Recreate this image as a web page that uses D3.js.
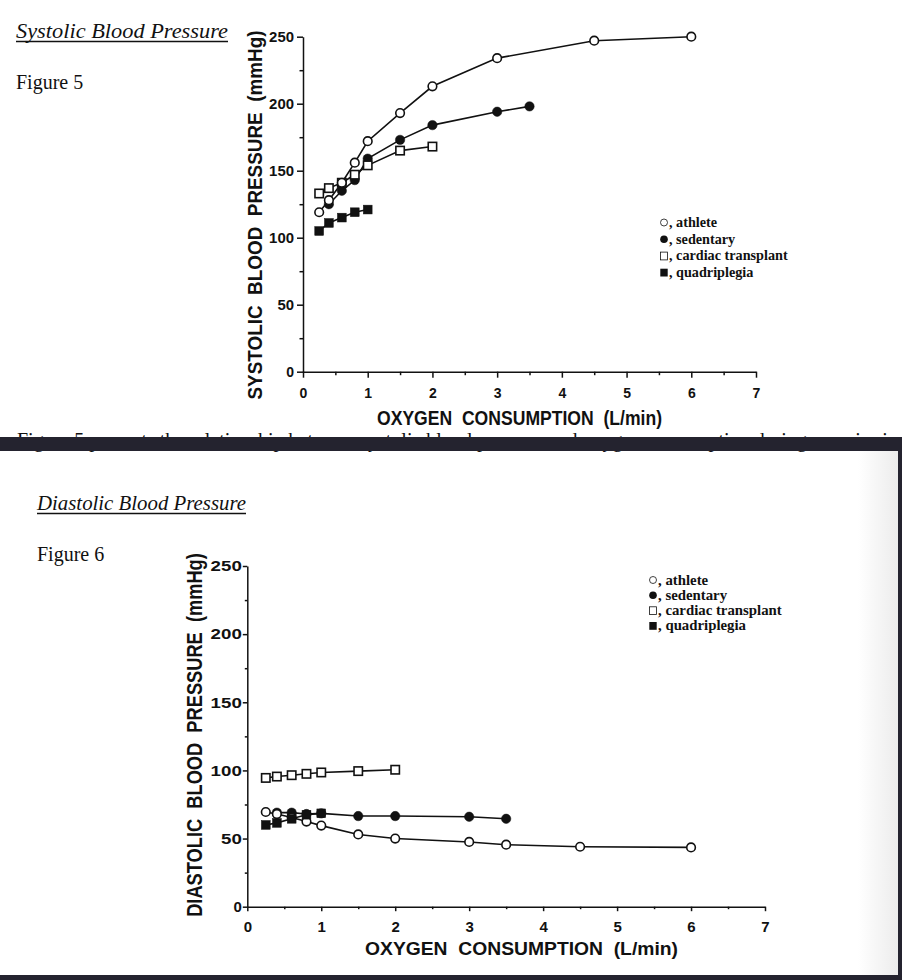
<!DOCTYPE html>
<html>
<head>
<meta charset="utf-8">
<script src="https://cdn.jsdelivr.net/npm/d3@7"></script>
<style>
  body { margin: 0; background: #fff; }
  svg { display: block; }
</style>
</head>
<body>
<svg id="fig" width="902" height="980"></svg>
<script>
// ticks shared by both figures
var xTicks = [0, 1, 2, 3, 4, 5, 6, 7];
var xMinor = [0.5, 1.5, 2.5, 3.5, 4.5, 5.5, 6.5];
var yTicks = [0, 50, 100, 150, 200, 250];
var yMinor = [25, 75, 125, 175, 225];

var groupNames = ["athlete", "sedentary", "cardiac transplant", "quadriplegia"];

// Figure 5 - systolic pressure, [L/min, mmHg]
var sysAthlete = [[0.25,119],[0.4,128],[0.6,141],[0.8,156],[1,172],[1.5,193],[2,213],[3,234],[4.5,247],[6,250]];
var sysSedentary = [[0.4,125],[0.6,135],[0.8,143],[1,159],[1.5,173],[2,184],[3,194],[3.5,198]];
var sysTransplant = [[0.25,133],[0.4,137],[0.6,141],[0.8,147],[1,154],[1.5,165],[2,168]];
var sysQuad = [[0.25,105],[0.4,111],[0.6,115],[0.8,119],[1,121]];

// Figure 6 - diastolic pressure
var diaAthlete = [[0.25,69.5],[0.4,68],[0.6,65.5],[0.8,62.5],[1,59.5],[1.5,53],[2,50],[3,47.5],[3.5,45.5],[4.5,44],[6,43.5]];
var diaSedentary = [[0.4,69],[0.6,69],[0.8,68],[1,68.5],[1.5,66.5],[2,66.5],[3,66],[3.5,64.5]];
var diaTransplant = [[0.25,94.5],[0.4,95.5],[0.6,96.5],[0.8,97.5],[1,98.5],[1.5,99.5],[2,100.5]];
var diaQuad = [[0.25,60],[0.4,61.5],[0.6,64.5],[0.8,67.5],[1,68.5]];

var svg = d3.select("#fig");
var sans = "'Liberation Sans', Arial, Helvetica, sans-serif";
var serif = "'Liberation Serif', 'Times New Roman', Times, serif";

svg.append("rect").attr("width", 902).attr("height", 980).attr("fill", "#fff");

// the caption line that is cut off by the page break
svg.append("text")
    .attr("x", 17)
    .attr("y", 447)
    .attr("font-family", serif)
    .attr("font-size", 20)
    .attr("fill", "#111")
    .text("Figure 5 presents the relationship between systolic blood pressure and oxygen consumption during exercise in the");

// dark frame between / around the two pages
var defs = svg.append("defs");
var shade = defs.append("linearGradient").attr("id", "shade").attr("x1", 0).attr("x2", 1);
shade.append("stop").attr("offset", 0).attr("stop-color", "#fff");
shade.append("stop").attr("offset", 1).attr("stop-color", "#ececec");

svg.append("rect").attr("x", 858).attr("y", 451).attr("width", 40).attr("height", 524).attr("fill", "url(#shade)");
svg.append("rect").attr("x", 0).attr("y", 437).attr("width", 902).attr("height", 14).attr("fill", "#24232f");
svg.append("rect").attr("x", 898).attr("y", 451).attr("width", 4).attr("height", 529).attr("fill", "#24232f");
svg.append("rect").attr("x", 0).attr("y", 975).attr("width", 902).attr("height", 5).attr("fill", "#24232f");

// page headings
function heading(x, y, title, titleLen, fig) {
    svg.append("text")
        .attr("x", x)
        .attr("y", y)
        .attr("font-family", serif)
        .attr("font-style", "italic")
        .attr("font-size", 21)
        .attr("textLength", titleLen)
        .attr("lengthAdjust", "spacingAndGlyphs")
        .attr("fill", "#111")
        .text(title);
    svg.append("line")
        .attr("x1", x).attr("x2", x + titleLen)
        .attr("y1", y + 3.5).attr("y2", y + 3.5)
        .attr("stroke", "#111")
        .attr("stroke-width", 1.3);
    svg.append("text")
        .attr("x", x)
        .attr("y", y + 51)
        .attr("font-family", serif)
        .attr("font-size", 20)
        .attr("fill", "#111")
        .text(fig);
}

heading(16, 38, "Systolic Blood Pressure", 212, "Figure 5");
heading(37, 510, "Diastolic Blood Pressure", 209, "Figure 6");

function drawChart(opt) {
    var x = d3.scaleLinear().domain([0, 7]).range(opt.xRange);
    var y = d3.scaleLinear().domain([0, 250]).range(opt.yRange);
    var g = svg.append("g");

    // minor ticks first so the main axis covers them
    g.append("g")
        .attr("transform", "translate(" + opt.xRange[0] + ",0)")
        .call(d3.axisLeft(y).tickValues(yMinor).tickFormat("").tickSize(opt.minorTick).tickSizeOuter(0))
        .call(function(a) { a.select(".domain").remove(); });
    g.append("g")
        .attr("transform", "translate(0," + opt.yRange[0] + ")")
        .call(d3.axisBottom(x).tickValues(xMinor).tickFormat("").tickSize(opt.minorTick).tickSizeOuter(0))
        .call(function(a) { a.select(".domain").remove(); });

    var yAxis = g.append("g")
        .attr("transform", "translate(" + opt.xRange[0] + ",0)")
        .call(d3.axisLeft(y).tickValues(yTicks).tickFormat(d3.format("d"))
            .tickSize(opt.majorTick).tickPadding(opt.yPad).tickSizeOuter(0));

    var xAxis = g.append("g")
        .attr("transform", "translate(0," + opt.yRange[0] + ")")
        .call(d3.axisBottom(x).tickValues(xTicks).tickFormat(d3.format("d"))
            .tickSize(opt.majorTick).tickSizeOuter(0));

    g.selectAll(".domain, .tick line")
        .attr("stroke", "#111")
        .attr("stroke-width", 1.5);

    yAxis.selectAll("text")
        .attr("font-family", sans)
        .attr("font-weight", "bold")
        .attr("font-size", opt.tickFont)
        .attr("fill", "#111")
        .attr("textLength", function(d) { return String(d).length > 1 ? String(d).length * opt.digitW : null; })
        .attr("lengthAdjust", "spacingAndGlyphs");

    xAxis.selectAll("text")
        .attr("font-family", sans)
        .attr("font-weight", "bold")
        .attr("font-size", opt.tickFont)
        .attr("fill", "#111")
        .attr("y", opt.xLabelY)
        .attr("dy", 0);

    // axis titles (y title squeezed along its length, like the condensed original)
    svg.append("text")
        .attr("transform", "translate(" + opt.yTitle[0] + "," + opt.yTitle[1] + ") rotate(-90) scale(" + opt.yTitle[3] + ",1)")
        .attr("text-anchor", "middle")
        .attr("font-family", sans)
        .attr("font-weight", "bold")
        .attr("font-size", opt.yTitle[2])
        .style("white-space", "pre")
        .attr("fill", "#111")
        .text(opt.yLabel);

    svg.append("text")
        .attr("x", opt.xTitle[0])
        .attr("y", opt.xTitle[1])
        .attr("text-anchor", "middle")
        .attr("font-family", sans)
        .attr("font-weight", "bold")
        .attr("font-size", opt.xTitle[2])
        .attr("textLength", opt.xTitle[3])
        .attr("lengthAdjust", "spacingAndGlyphs")
        .style("white-space", "pre")
        .attr("fill", "#111")
        .text("OXYGEN  CONSUMPTION  (L/min)");

    var line = d3.line()
        .x(function(d) { return x(d[0]); })
        .y(function(d) { return y(d[1]); });

    opt.series.forEach(function(s) {
        g.append("path")
            .datum(s.data)
            .attr("d", line)
            .attr("fill", "none")
            .attr("stroke", "#111")
            .attr("stroke-width", 1.6);

        var pts = g.append("g").selectAll(".pt").data(s.data).enter();
        var filled = s.kind === "sedentary" || s.kind === "quadriplegia";

        if (s.kind === "athlete" || s.kind === "sedentary") {
            pts.append("circle")
                .attr("cx", function(d) { return x(d[0]); })
                .attr("cy", function(d) { return y(d[1]); })
                .attr("r", filled ? 4.7 : 4.3)
                .attr("fill", filled ? "#111" : "#fff")
                .attr("stroke", "#111")
                .attr("stroke-width", filled ? 0.5 : 1.6);
        } else {
            var side = filled ? 8.8 : 8.4;
            pts.append("rect")
                .attr("x", function(d) { return x(d[0]) - side / 2; })
                .attr("y", function(d) { return y(d[1]) - side / 2; })
                .attr("width", side)
                .attr("height", side)
                .attr("fill", filled ? "#111" : "#fff")
                .attr("stroke", "#111")
                .attr("stroke-width", filled ? 0.5 : 1.6);
        }
    });

    // legend, symbol + ", name"
    var leg = svg.append("g");
    groupNames.forEach(function(name, i) {
        var by = opt.legend.y + i * opt.legend.step;
        var cy = by - 4.5;
        var sx = opt.legend.x;
        if (i === 0) {
            leg.append("circle").attr("cx", sx).attr("cy", cy).attr("r", 3.5)
                .attr("fill", "#fff").attr("stroke", "#111").attr("stroke-width", 0.8);
        } else if (i === 1) {
            leg.append("circle").attr("cx", sx).attr("cy", cy).attr("r", 3.8).attr("fill", "#111");
        } else if (i === 2) {
            leg.append("rect").attr("x", sx - 3.5).attr("y", cy - 3.8).attr("width", 7).attr("height", 7.8)
                .attr("fill", "#fff").attr("stroke", "#111").attr("stroke-width", 0.8);
        } else {
            leg.append("rect").attr("x", sx - 3.7).attr("y", cy - 3.9).attr("width", 7.4).attr("height", 7.8)
                .attr("fill", "#111");
        }
        leg.append("text")
            .attr("x", sx + 5)
            .attr("y", by)
            .attr("font-family", serif)
            .attr("font-weight", "bold")
            .attr("font-size", opt.legend.font)
            .attr("fill", "#111")
            .text(", " + name);
    });
}

drawChart({
    xRange: [303, 756],
    yRange: [371.7, 36.7],
    majorTick: 6,
    minorTick: 3.5,
    yPad: 3,
    tickFont: 14,
    digitW: 8.3,
    xLabelY: 26.5,
    yLabel: "SYSTOLIC  BLOOD  PRESSURE  (mmHg)",
    yTitle: [262, 215, 21, 0.9],
    xTitle: [519.5, 425, 20, 285],
    legend: { x: 664, y: 227, step: 16.7, font: 14.2 },
    series: [
        { kind: "sedentary", data: sysSedentary },
        { kind: "cardiac transplant", data: sysTransplant },
        { kind: "athlete", data: sysAthlete },
        { kind: "quadriplegia", data: sysQuad }
    ]
});

drawChart({
    xRange: [247.3, 765],
    yRange: [906.7, 566],
    majorTick: 4.5,
    minorTick: 2.5,
    yPad: 1,
    tickFont: 15,
    digitW: 10.4,
    xLabelY: 25.5,
    yLabel: "DIASTOLIC  BLOOD  PRESSURE  (mmHg)",
    yTitle: [202, 735, 22, 0.83],
    xTitle: [521.5, 955, 17.5, 313],
    legend: { x: 653, y: 584.5, step: 15.3, font: 14.8 },
    series: [
        { kind: "sedentary", data: diaSedentary },
        { kind: "athlete", data: diaAthlete },
        { kind: "quadriplegia", data: diaQuad },
        { kind: "cardiac transplant", data: diaTransplant }
    ]
});
</script>
</body>
</html>
